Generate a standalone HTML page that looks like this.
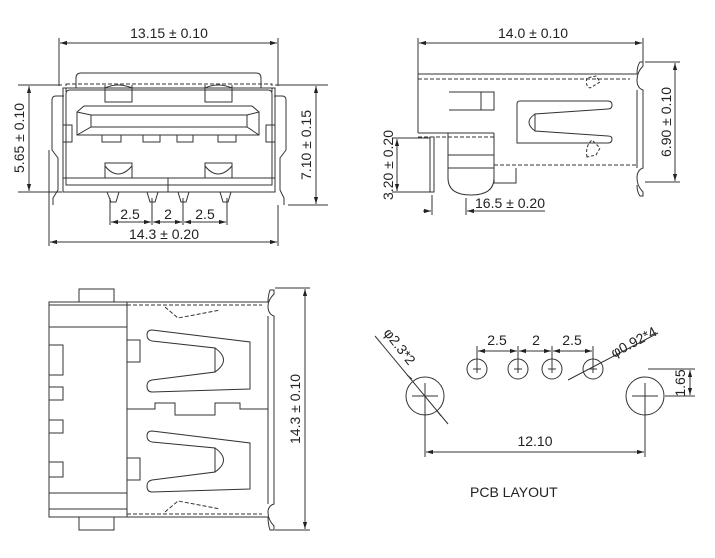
<!DOCTYPE html>
<html><head><meta charset="utf-8"><style>
html,body{margin:0;padding:0;background:#fff;}
svg{display:block;}
text{font-family:"Liberation Sans",sans-serif;font-size:14px;fill:#222;}
</style></head><body>
<svg width="715" height="558" viewBox="0 0 715 558" xmlns="http://www.w3.org/2000/svg">
<defs>
<marker id="a" viewBox="0 0 10 10" refX="10" refY="5" markerWidth="7" markerHeight="7" orient="auto-start-reverse"><path d="M0,2 L10,5 L0,8 z" fill="#222"/></marker>
</defs>
<g fill="none" stroke="#333" stroke-width="1">
<line x1="59" y1="38" x2="59" y2="86"/><line x1="278" y1="38" x2="278" y2="86"/>
<line x1="60" y1="43" x2="277" y2="43" marker-start="url(#a)" marker-end="url(#a)"/>
<path d="M76,88 V78 Q76,73 81,73 H256 Q261,73 261,78 V88"/>
<line x1="18" y1="85" x2="62" y2="85"/><line x1="275" y1="85" x2="328" y2="85"/>
<line x1="18" y1="192" x2="62" y2="192"/>
<line x1="29" y1="86" x2="29" y2="191" marker-start="url(#a)" marker-end="url(#a)"/>
<line x1="288" y1="205" x2="328" y2="205"/>
<line x1="316" y1="86" x2="316" y2="204" marker-start="url(#a)" marker-end="url(#a)"/>
<rect x="63" y="88" width="212" height="104"/>
<path d="M66,94 Q66,90 70,90 H268 Q272,90 272,94 V185 H66 Z"/>
<rect x="66" y="84" width="206" height="101" stroke-dasharray="4,2"/>
<path d="M52,100 Q52,96 56,96 H64 M274,96 H282 Q286,96 286,100 V150 L280,158 V190 L284,198 V205 M52,100 V150 L58,158 V190 L53,198 V205"/>
<path d="M77,112 L84,106 H252 L259,112 V135 H77 Z"/>
<rect x="91" y="115" width="156" height="12"/>
<path d="M77,112 L91,115 M259,112 L247,115 M77,135 L91,127 M259,135 L247,127"/>
<rect x="102" y="135" width="19" height="7"/><rect x="143" y="135" width="17" height="7"/>
<rect x="177" y="135" width="16" height="7"/><rect x="218" y="135" width="18" height="7"/>
<path d="M105,85 V102 H132 V85 M205,85 V102 H232 V85"/>
<path d="M105,88 Q118,82 132,88 M205,88 Q218,82 232,88"/>
<path d="M105,178 V163 H132 V178 M205,178 V163 H232 V178"/>
<path d="M105,166 Q118,182 132,166 M205,166 Q218,182 232,166"/>
<rect x="63" y="125" width="9" height="17"/><rect x="266" y="125" width="9" height="17"/>
<line x1="63" y1="178" x2="275" y2="178"/><line x1="168" y1="178" x2="168" y2="192"/>
<path d="M107,192 L111,202 H116 L119,192 M147,192 L150,202 H155 L158,192 M178,192 L181,202 H186 L189,192 M220,192 L223,202 H228 L231,192"/>
<line x1="110" y1="198" x2="110" y2="225"/><line x1="152" y1="198" x2="152" y2="225"/>
<line x1="183" y1="198" x2="183" y2="225"/><line x1="227" y1="198" x2="227" y2="225"/>
<line x1="111" y1="222" x2="151" y2="222" marker-start="url(#a)" marker-end="url(#a)"/>
<line x1="153" y1="222" x2="182" y2="222" marker-start="url(#a)" marker-end="url(#a)"/>
<line x1="184" y1="222" x2="226" y2="222" marker-start="url(#a)" marker-end="url(#a)"/>
<line x1="49" y1="150" x2="49" y2="246"/><line x1="278" y1="205" x2="278" y2="246"/>
<line x1="50" y1="242" x2="277" y2="242" marker-start="url(#a)" marker-end="url(#a)"/>

<line x1="418" y1="38" x2="418" y2="133"/><line x1="643" y1="38" x2="643" y2="62"/>
<line x1="419" y1="43" x2="642" y2="43" marker-start="url(#a)" marker-end="url(#a)"/>
<line x1="418" y1="74" x2="637" y2="74"/>
<line x1="418" y1="79" x2="630" y2="79" stroke-dasharray="4,2"/>
<path d="M637,74 Q637,66 640,62 H643 V66 Q637,72 637,80 Q637,88 643,90 V168 Q637,170 637,178 Q637,186 643,192 V196 H640 Q637,192 637,185"/>
<line x1="637" y1="90" x2="637" y2="168"/>
<line x1="645" y1="62" x2="680" y2="62"/><line x1="645" y1="182" x2="680" y2="182"/>
<line x1="675" y1="63" x2="675" y2="181" marker-start="url(#a)" marker-end="url(#a)"/>
<path d="M449,92 H494 V110 H449 M481,92 V110"/>
<path d="M520,101 H608 Q612,101 612,105 Q612,109 608,109 L535,114 V131 L608,136 Q612,136 612,139 Q612,143 608,143 H517 V104 Q517,101 520,101 Z"/>
<path d="M535,114 Q523,122 535,131"/>
<path d="M587,78 Q585,86 590,88 L600,82 L596,76 Z M587,157 Q585,146 592,140 L600,148 L596,155 Z" stroke-dasharray="3,2"/>
<line x1="418" y1="133" x2="494" y2="133"/>
<line x1="418" y1="137" x2="494" y2="137" stroke-dasharray="4,2"/>
<path d="M448,133 V178 Q448,195 471,195 Q494,195 494,178 V133"/>
<line x1="448" y1="155" x2="494" y2="155"/><line x1="448" y1="168" x2="494" y2="168"/>
<line x1="494" y1="165" x2="637" y2="165" stroke-dasharray="4,2"/>
<path d="M494,168 V183 H516 V168"/>
<rect x="430" y="137" width="4" height="55"/>
<line x1="392" y1="138" x2="430" y2="138"/><line x1="392" y1="192" x2="430" y2="192"/>
<line x1="397" y1="139" x2="397" y2="191" marker-start="url(#a)" marker-end="url(#a)"/>
<line x1="432" y1="195" x2="432" y2="215"/><line x1="466" y1="198" x2="466" y2="215"/>
<line x1="423" y1="211" x2="431" y2="211" marker-end="url(#a)"/>
<line x1="467" y1="211" x2="545" y2="211" marker-start="url(#a)"/>

<rect x="49" y="302" width="78" height="215"/>
<rect x="79" y="289" width="35" height="13"/><rect x="79" y="517" width="35" height="13"/>
<line x1="49" y1="305" x2="127" y2="305"/><line x1="49" y1="327" x2="127" y2="327"/>
<line x1="49" y1="493" x2="127" y2="493"/><line x1="49" y1="509" x2="127" y2="509"/>
<path d="M49,345 H63 V375 H49 M49,387 H63 V400 H49 M49,420 H63 V433 H49 M49,462 H63 V477 H49"/>
<line x1="127" y1="302" x2="268" y2="302"/><line x1="127" y1="517" x2="268" y2="517"/>
<line x1="127" y1="305" x2="262" y2="305" stroke-dasharray="4,2"/>
<line x1="127" y1="514" x2="262" y2="514" stroke-dasharray="4,2"/>
<path d="M165,307 L178,318 L220,310 M165,512 L178,501 L220,509" stroke-dasharray="4,2"/>
<path d="M268,302 Q268,296 270,290 H274 V294 Q268,300 268,306 Q268,314 274,316 V504 Q268,506 268,512 Q268,520 274,526 V530 H270 Q268,524 268,517"/>
<line x1="268" y1="316" x2="268" y2="504"/>
<rect x="127" y="340" width="13" height="22"/><rect x="127" y="458" width="13" height="22"/>
<path d="M152,330 L250,342 V389 L152,392 Q147,392 147,386 Q147,381 152,380 L215,372 V348 L152,341 Q147,340 147,335 Q147,330 152,330 Z"/>
<path d="M215,348 Q232,360 215,372"/><line x1="215" y1="348" x2="215" y2="372" stroke-dasharray="3,2"/>
<path d="M152,431 L250,443 V489 L152,492 Q147,492 147,486 Q147,481 152,480 L215,472 V448 L152,442 Q147,441 147,436 Q147,431 152,431 Z"/>
<path d="M215,448 Q232,460 215,472"/><line x1="215" y1="448" x2="215" y2="472" stroke-dasharray="3,2"/>
<path d="M127,409 H155 V403 H175 V415 H215 V403 H240 V409 H268"/>
<line x1="275" y1="288" x2="310" y2="288"/><line x1="275" y1="530" x2="310" y2="530"/>
<line x1="305" y1="289" x2="305" y2="529" marker-start="url(#a)" marker-end="url(#a)"/>

<circle cx="477" cy="369" r="10"/><circle cx="518" cy="369" r="10"/>
<circle cx="552" cy="369" r="10"/><circle cx="593" cy="369" r="10"/>
<path d="M473,369 H481 M477,365 V373 M514,369 H522 M518,365 V373 M548,369 H556 M552,365 V373 M589,369 H597 M593,365 V373"/>
<line x1="477" y1="346" x2="477" y2="369"/><line x1="518" y1="346" x2="518" y2="369"/>
<line x1="552" y1="346" x2="552" y2="369"/><line x1="593" y1="346" x2="593" y2="369"/>
<line x1="478" y1="351" x2="517" y2="351" marker-start="url(#a)" marker-end="url(#a)"/>
<line x1="519" y1="351" x2="551" y2="351" marker-start="url(#a)" marker-end="url(#a)"/>
<line x1="553" y1="351" x2="592" y2="351" marker-start="url(#a)" marker-end="url(#a)"/>
<circle cx="425" cy="396" r="19"/><circle cx="645" cy="396" r="19"/>
<path d="M412,396 H438 M425,383 V409 M632,396 H658 M645,383 V409"/>
<line x1="425" y1="409" x2="425" y2="457"/><line x1="645" y1="409" x2="645" y2="457"/>
<line x1="426" y1="452" x2="644" y2="452" marker-start="url(#a)" marker-end="url(#a)"/>
<line x1="648" y1="369" x2="695" y2="369"/><line x1="665" y1="396" x2="695" y2="396"/>
<line x1="690" y1="370" x2="690" y2="395" marker-start="url(#a)" marker-end="url(#a)"/>
<line x1="375" y1="336" x2="448" y2="424"/>
<path d="M412,379 L407,375 M437,411 L441,416" />
<line x1="568" y1="380" x2="658" y2="333"/>
</g>
<text x="169" y="38" text-anchor="middle">13.15 ± 0.10</text>
<text x="130" y="219" text-anchor="middle">2.5</text>
<text x="168" y="219" text-anchor="middle">2</text>
<text x="205" y="219" text-anchor="middle">2.5</text>
<text x="164" y="239" text-anchor="middle">14.3 ± 0.20</text>
<text transform="translate(24,138) rotate(-90)" text-anchor="middle">5.65 ± 0.10</text>
<text transform="translate(311,145) rotate(-90)" text-anchor="middle">7.10 ± 0.15</text>
<text x="533" y="38" text-anchor="middle">14.0 ± 0.10</text>
<text transform="translate(671,122) rotate(-90)" text-anchor="middle">6.90 ± 0.10</text>
<text transform="translate(393,165) rotate(-90)" text-anchor="middle">3.20 ± 0.20</text>
<text x="510" y="208" text-anchor="middle">16.5 ± 0.20</text>
<text transform="translate(300,409) rotate(-90)" text-anchor="middle">14.3 ± 0.10</text>
<text x="497" y="345" text-anchor="middle">2.5</text>
<text x="536" y="345" text-anchor="middle">2</text>
<text x="572" y="345" text-anchor="middle">2.5</text>
<text x="535" y="446" text-anchor="middle">12.10</text>
<text transform="translate(685,383) rotate(-90)" text-anchor="middle">1.65</text>
<text transform="translate(383,333) rotate(52)">φ2.3*2</text>
<text transform="translate(614,358) rotate(-28)">φ0.92*4</text>
<text x="470" y="497">PCB LAYOUT</text>
</svg>
</body></html>
